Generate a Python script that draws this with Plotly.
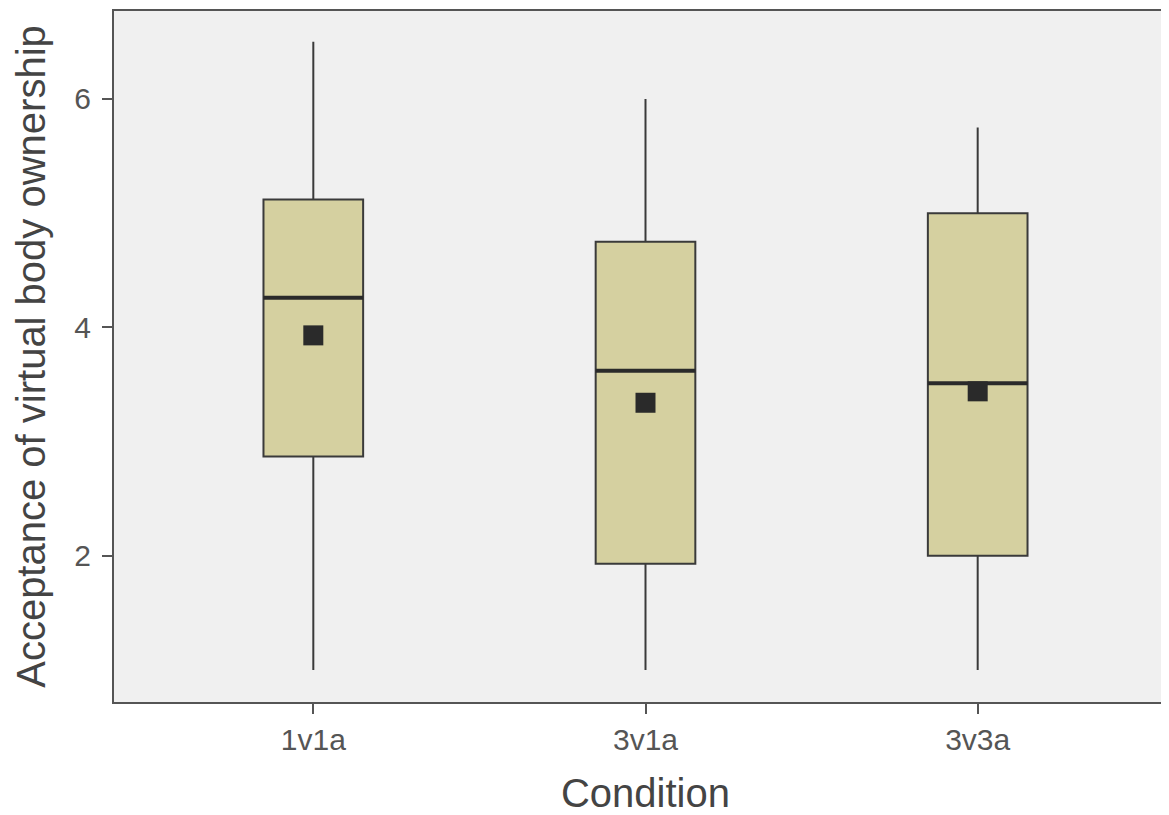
import plotly.graph_objects as go

categories = ["1v1a", "3v1a", "3v3a"]
lower = [1.0, 1.0, 1.0]
q1 = [2.87, 1.93, 2.0]
median = [4.26, 3.62, 3.51]
q3 = [5.12, 4.75, 5.0]
upper = [6.5, 6.0, 5.75]
means = [3.93, 3.34, 3.44]

xpos = list(range(len(categories)))
half = 0.15

fig = go.Figure()
fig.add_trace(go.Box(
    x=xpos, q1=q1, median=median, q3=q3, lowerfence=lower, upperfence=upper,
    width=0.3, whiskerwidth=0, fillcolor="#d5d0a0",
    line=dict(color="#3a3a3a", width=2), showlegend=False, hoverinfo="skip"
))
for i, m in zip(xpos, median):
    fig.add_trace(go.Scatter(x=[i - half, i + half], y=[m, m], mode="lines",
                             line=dict(color="#2a2a2a", width=4), showlegend=False))
fig.add_trace(go.Scatter(x=xpos, y=means, mode="markers",
                         marker=dict(symbol="square", size=20, color="#2a2a2a"),
                         showlegend=False))

fig.update_layout(
    width=1169, height=815,
    margin=dict(l=106, r=0, t=3, b=121),
    paper_bgcolor="white", plot_bgcolor="#f0f0f0",
    font=dict(family="Liberation Sans, Arial, sans-serif", color="#555555"),
)
fig.update_xaxes(
    range=[-0.6, 2.6], tickvals=xpos, ticktext=categories,
    showgrid=False, zeroline=False, showline=True, linecolor="#555555", linewidth=2,
    mirror=True, ticks="outside", ticklen=10, tickwidth=2, tickcolor="#555555",
    tickfont=dict(size=30, color="#555555"),
    title=dict(text="Condition", font=dict(size=40, color="#444444"), standoff=24),
)
fig.update_yaxes(
    range=[0.72, 6.77], tickvals=[2, 4, 6],
    showgrid=False, zeroline=False, showline=True, linecolor="#555555", linewidth=2,
    ticks="outside", ticklen=10, tickwidth=2, tickcolor="#555555",
    tickfont=dict(size=30, color="#555555"), ticklabelstandoff=5,
    title=dict(text="Acceptance of virtual body ownership", font=dict(size=40, color="#444444"), standoff=16),
)
fig.write_html("out.html")
